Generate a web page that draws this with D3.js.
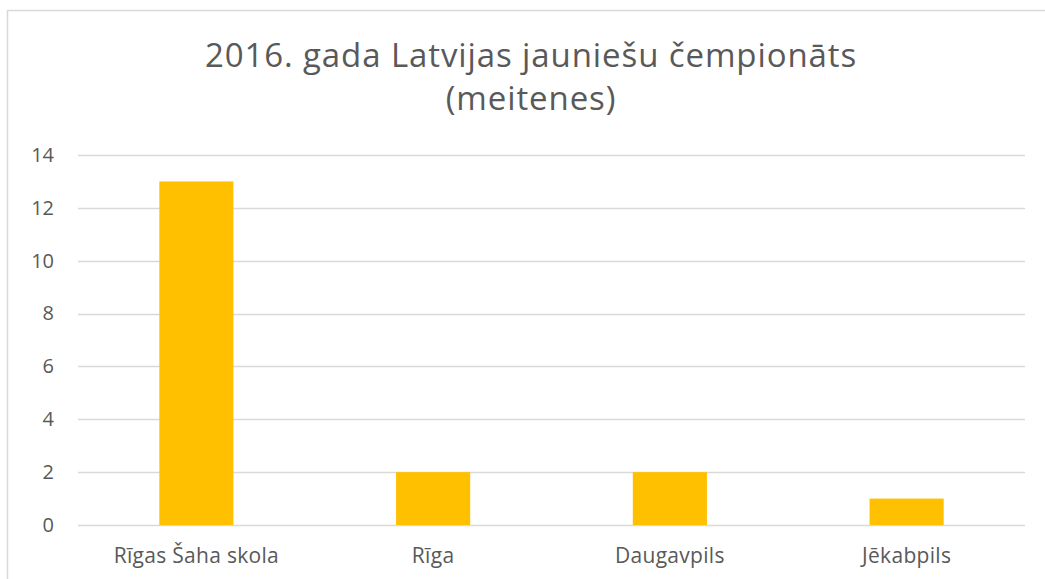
<!DOCTYPE html>
<html>
<head>
<meta charset="utf-8">
<script src="https://cdn.jsdelivr.net/npm/d3@7"></script>
<style>
  body { margin: 0; background: #fff; }
  text { font-family: "Open Sans", "Noto Sans", sans-serif; fill: #595959; }
</style>
</head>
<body>
<div id="chart"></div>
<script>
var categories = ["Rīgas Šaha skola", "Rīga", "Daugavpils", "Jēkabpils"];
var values = [13, 2, 2, 1];
var yTicks = [0, 2, 4, 6, 8, 10, 12, 14];
var titleLines = ["2016. gada Latvijas jauniešu čempionāts", "(meitenes)"];

var width = 1045,
  height = 579,
  margin = {left: 78, right: 20, top: 155, bottom: 54},
  svg = d3.select("#chart")
    .append("svg")
    .attr("width", width)
    .attr("height", height);

// chart area border
svg.append("rect")
  .attr("x", 7.5).attr("y", 10.5)
  .attr("width", width + 10).attr("height", height + 10)
  .attr("fill", "none")
  .attr("stroke", "#d9d9d9")
  .attr("stroke-width", 1.5);

var title = svg.append("text")
  .attr("text-anchor", "middle")
  .attr("font-size", 33)
  .attr("letter-spacing", 0.9);
title.selectAll("tspan")
  .data(titleLines)
  .enter().append("tspan")
  .attr("x", 531)
  .attr("y", function (d, i) { return 67 + i * 43; })
  .text(function (d) { return d; });

var chart = svg.append("g")
  .attr("transform", "translate(" + margin.left + "," + margin.top + ")");

var plotW = width - margin.left - (width - 1025),
  plotH = height - margin.top - margin.bottom;

var x = d3.scaleBand()
  .domain(categories)
  .range([0, plotW]);

var y = d3.scaleLinear()
  .domain([0, 14])
  .range([plotH, 0]);

// gridlines
chart.append("g")
  .selectAll("line")
  .data(yTicks)
  .enter().append("line")
  .attr("x1", 0)
  .attr("x2", plotW)
  .attr("y1", function (d) { return Math.round(y(d)) + 0.5; })
  .attr("y2", function (d) { return Math.round(y(d)) + 0.5; })
  .attr("stroke", "#d9d9d9")
  .attr("stroke-width", 1.5);

var barW = x.bandwidth() * 0.313;

chart.selectAll("rect.bar")
  .data(values)
  .enter().append("rect")
  .attr("class", "bar")
  .attr("x", function (d, i) { return x(categories[i]) + x.bandwidth() / 2 - barW / 2; })
  .attr("y", function (d) { return y(d); })
  .attr("width", barW)
  .attr("height", function (d) { return y(0) - y(d); })
  .attr("fill", "#ffc000");

// y axis labels
var yAxis = chart.append("g")
  .call(d3.axisLeft(y).tickValues(yTicks).tickSize(0).tickPadding(24).tickFormat(d3.format("d")));
yAxis.select(".domain").remove();
yAxis.selectAll("text")
  .attr("font-size", 20)
  .attr("font-family", null)
  .style("fill", "#595959");

// x axis labels
var xAxis = chart.append("g")
  .attr("transform", "translate(0," + plotH + ")")
  .call(d3.axisBottom(x).tickSize(0).tickPadding(23));
xAxis.select(".domain").remove();
xAxis.selectAll("text")
  .attr("font-size", 21)
  .attr("letter-spacing", 0.3)
  .attr("font-family", null)
  .style("fill", "#595959");
</script>
</body>
</html>
